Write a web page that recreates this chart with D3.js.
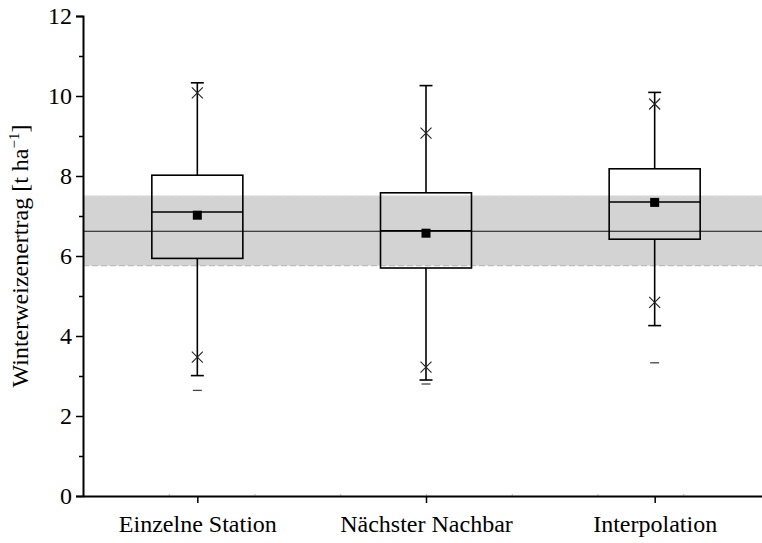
<!DOCTYPE html>
<html><head><meta charset="utf-8">
<script src="https://cdn.jsdelivr.net/npm/d3@7"></script>
<style>
body{margin:0;background:#fff}
text{font-family:"Liberation Serif","Times New Roman",Times,serif;fill:#000}
</style>
</head><body>
<svg id="c" width="762" height="543"></svg>
<script>
// ---- data ----
const categories = ["Einzelne Station", "Nächster Nachbar", "Interpolation"];
const whiskerHigh = [10.33, 10.26, 10.09];
const p99 = [10.08, 9.07, 9.80];
const q3 = [8.02, 7.58, 8.18];
const median = [7.10, 6.63, 7.35];
const mean = [7.02, 6.57, 7.34];
const q1 = [5.94, 5.70, 6.42];
const p1 = [3.47, 3.22, 4.84];
const whiskerLow = [3.01, 2.90, 4.26];
const minimum = [2.64, 2.80, 3.33];
const bandRange = [5.76, 7.51];
const refValue = [6.62];
const yTicks = [0, 2, 4, 6, 8, 10, 12];
const yMinorTicks = [1, 3, 5, 7, 9, 11];

const FONT = '"Liberation Serif","Times New Roman",Times,serif';
const svg = d3.select("#c");
const x = d3.scaleLinear().domain([0.5, 3.5]).range([83, 769]);
const y = d3.scaleLinear().domain([0, 12]).range([496, 16]);
const pos = i => x(i + 1);

const boxes = categories.map((c, i) => ({
  c, i, wh: whiskerHigh[i], p99: p99[i], q3: q3[i], med: median[i], mean: mean[i],
  q1: q1[i], p1: p1[i], wl: whiskerLow[i], min: minimum[i]
}));

// band
svg.append("rect").attr("x", x(0.5)).attr("width", 762 - x(0.5))
  .attr("y", y(bandRange[1])).attr("height", y(bandRange[0]) - y(bandRange[1]))
  .attr("fill", "#d3d3d3");
svg.append("line").attr("x1", x(0.5)).attr("x2", 762)
  .attr("y1", y(bandRange[1])).attr("y2", y(bandRange[1]))
  .attr("stroke", "#e6e6e6").attr("stroke-width", 1.2).attr("stroke-dasharray", "6,3");
svg.append("line").attr("x1", x(0.5)).attr("x2", 762)
  .attr("y1", y(bandRange[0])).attr("y2", y(bandRange[0]))
  .attr("stroke", "#bdbdbd").attr("stroke-width", 1.2).attr("stroke-dasharray", "6,3");
svg.append("line").attr("x1", x(0.5)).attr("x2", 762)
  .attr("y1", y(refValue[0])).attr("y2", y(refValue[0]))
  .attr("stroke", "#111").attr("stroke-width", 1.1);

const boxW = 91, capW = 13;
const g = svg.selectAll("g.box").data(boxes).join("g").attr("class", "box");
// whiskers
g.append("line").attr("x1", d => pos(d.i)).attr("x2", d => pos(d.i))
  .attr("y1", d => y(d.wh)).attr("y2", d => y(d.q3)).attr("stroke", "#000").attr("stroke-width", 1.6);
g.append("line").attr("x1", d => pos(d.i)).attr("x2", d => pos(d.i))
  .attr("y1", d => y(d.q1)).attr("y2", d => y(d.wl)).attr("stroke", "#000").attr("stroke-width", 1.6);
g.append("line").attr("x1", d => pos(d.i) - capW / 2).attr("x2", d => pos(d.i) + capW / 2)
  .attr("y1", d => y(d.wh)).attr("y2", d => y(d.wh)).attr("stroke", "#000").attr("stroke-width", 1.6);
g.append("line").attr("x1", d => pos(d.i) - capW / 2).attr("x2", d => pos(d.i) + capW / 2)
  .attr("y1", d => y(d.wl)).attr("y2", d => y(d.wl)).attr("stroke", "#000").attr("stroke-width", 1.6);
// box
g.append("rect").attr("x", d => pos(d.i) - boxW / 2).attr("width", boxW)
  .attr("y", d => y(d.q3)).attr("height", d => y(d.q1) - y(d.q3))
  .attr("fill", "none").attr("stroke", "#000").attr("stroke-width", 1.6);
g.append("line").attr("x1", d => pos(d.i) - boxW / 2).attr("x2", d => pos(d.i) + boxW / 2)
  .attr("y1", d => y(d.med)).attr("y2", d => y(d.med)).attr("stroke", "#000").attr("stroke-width", 1.6);
// mean
g.append("rect").attr("x", d => pos(d.i) - 4.5).attr("y", d => y(d.mean) - 4.5)
  .attr("width", 9).attr("height", 9).attr("fill", "#000");
// percentile crosses
const cross = (sel, key) => {
  sel.append("path").attr("d", d => {
    const cx = pos(d.i), cy = y(d[key]), s = 5.5;
    return `M${cx - s},${cy - s}L${cx + s},${cy + s}M${cx - s},${cy + s}L${cx + s},${cy - s}`;
  }).attr("stroke", "#222").attr("stroke-width", 1.1).attr("fill", "none");
};
cross(g, "p99");
cross(g, "p1");
// minimum dash
g.append("line").attr("x1", d => pos(d.i) - 4.5).attr("x2", d => pos(d.i) + 4.5)
  .attr("y1", d => y(d.min)).attr("y2", d => y(d.min)).attr("stroke", "#444").attr("stroke-width", 1.3);

// axes
const yAxis = svg.append("g").attr("transform", `translate(${x(0.5)},0)`)
  .call(d3.axisLeft(y).tickValues(yTicks).tickSize(7).tickPadding(4).tickFormat(d3.format("d")));
yAxis.select(".domain").attr("stroke-width", 2);
yAxis.selectAll(".tick line").attr("stroke-width", 1.5);
yAxis.selectAll("text").style("font-size", "24px").style("font-family", FONT);
svg.append("g").attr("transform", `translate(${x(0.5)},0)`)
  .call(d3.axisLeft(y).tickValues(yMinorTicks).tickSize(4).tickFormat(""))
  .call(s => s.select(".domain").remove())
  .selectAll(".tick line").attr("stroke-width", 1.5);

const xAxis = svg.append("g").attr("transform", `translate(0,${y(0)})`)
  .call(d3.axisBottom(x).tickValues([1, 2, 3]).tickSize(7).tickPadding(12)
    .tickFormat(d => categories[d - 1]).tickSizeOuter(0));
xAxis.select(".domain").attr("stroke-width", 2);
xAxis.selectAll(".tick line").attr("stroke-width", 1.5);
xAxis.selectAll("text").style("font-size", "24px").style("font-family", FONT);
svg.append("g").attr("transform", `translate(0,${y(0)})`)
  .call(d3.axisTop(x).tickValues(d3.range(1, 9).map(k => 0.5 + k * 0.375)).tickSize(1.5).tickFormat(""))
  .call(s => s.select(".domain").remove())
  .selectAll(".tick line").attr("stroke", "#666");

// y label
const lbl = svg.append("text")
  .attr("transform", `translate(28,${(y(0) + y(12)) / 2}) rotate(-90)`)
  .attr("text-anchor", "middle").style("font-size", "24px").style("font-family", FONT);
lbl.append("tspan").text("Winterweizenertrag [t ha");
lbl.append("tspan").text("−1").attr("dy", -9).style("font-size", "15px");
lbl.append("tspan").text("]").attr("dy", 9);
</script>
</body></html>
